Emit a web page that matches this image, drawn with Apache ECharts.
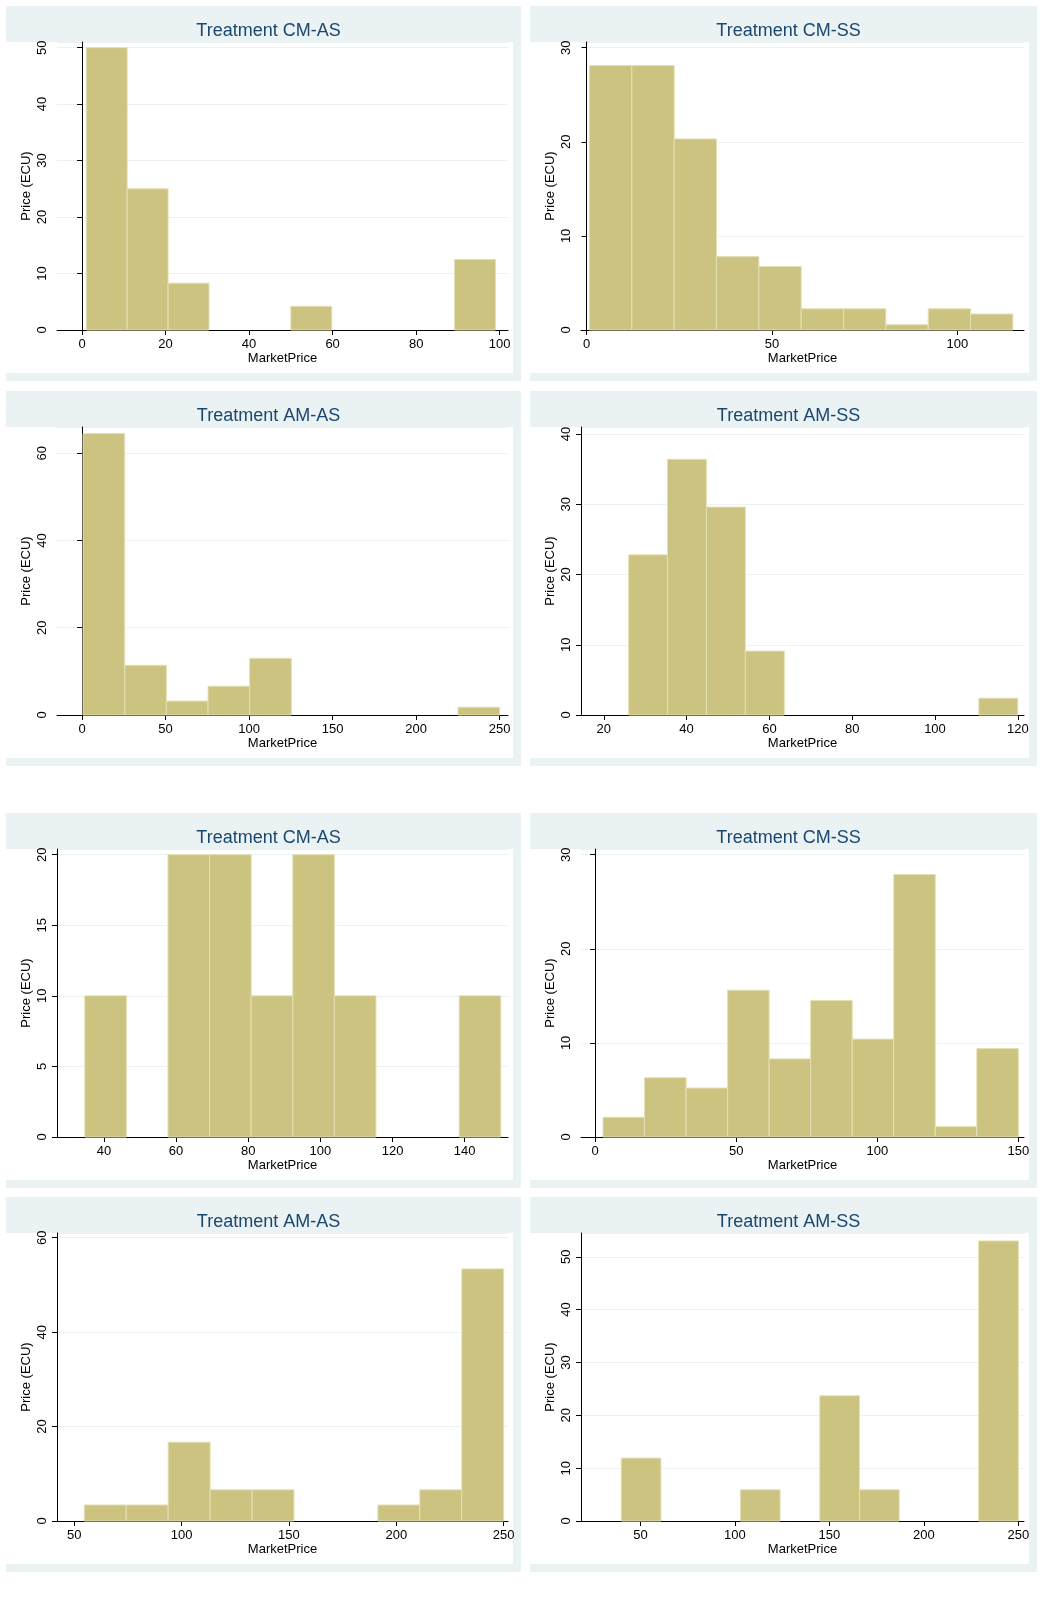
<!DOCTYPE html>
<html>
<head>
<meta charset="utf-8">
<title>MarketPrice histograms</title>
<script src="https://cdn.jsdelivr.net/npm/echarts/dist/echarts.min.js"></script>
<style>html,body{margin:0;padding:0;background:#fff;overflow:hidden}#main{width:1061px;height:1604px}</style>
</head>
<body>
<div id="main"></div>
<script>
// titles of the eight panels
var titles = ['Treatment CM-AS', 'Treatment CM-SS', 'Treatment AM-AS', 'Treatment AM-SS',
              'Treatment CM-AS', 'Treatment CM-SS', 'Treatment AM-AS', 'Treatment AM-SS'];
// histogram bins: first edge, bin width, heights
var binStart = [1, 0.8, 0.6, 26, 34.7, 2.8, 54.7, 39.8];
var binWidth = [9.8, 11.42, 24.94, 9.4, 11.53, 14.72, 19.53, 21.02];
var heights = [
  [50, 25, 8.3, 0, 0, 4.2, 0, 0, 0, 12.5],
  [28.1, 28.1, 20.3, 7.8, 6.75, 2.25, 2.25, 0.56, 2.25, 1.7],
  [64.5, 11.4, 3.2, 6.6, 13, 0, 0, 0, 0, 1.8],
  [22.8, 36.4, 29.6, 9.1, 0, 0, 0, 0, 0, 2.4],
  [10, 0, 20, 20, 10, 20, 10, 0, 0, 10],
  [2.1, 6.3, 5.2, 15.6, 8.3, 14.5, 10.4, 27.9, 1.1, 9.4],
  [3.4, 3.4, 16.7, 6.6, 6.6, 0, 0, 3.4, 6.6, 53.4],
  [11.9, 0, 0, 5.9, 0, 23.7, 5.9, 0, 0, 53]
];
// axis ranges and ticks
var xMin = [-6, -1.5, -15, 14.5, 27, -5, 42, 18.5];
var xMax = [102, 118, 255, 121.5, 152, 152, 252, 253];
var xInt = [20, 50, 50, 20, 20, 50, 50, 50];
var yMax = [51, 30.6, 66, 41, 20.4, 30.6, 61, 54.5];
var yInt = [10, 10, 20, 10, 5, 10, 20, 10];

var panelX = [6, 530], panelY = [6, 391, 813, 1197];
var panelW = [515, 507], panelH = 375;

var chart = echarts.init(document.getElementById('main'));
var grids = [], xAxes = [], yAxes = [], series = [], title = [], graphic = [];
for (var i = 0; i < 8; i++) {
  var c = i % 2, r = Math.floor(i / 2);
  var px = panelX[c], py = panelY[r], pw = panelW[c];
  graphic.push({type: 'rect', z: -10, shape: {x: px, y: py, width: pw, height: panelH}, style: {fill: '#eaf2f3'}});
  graphic.push({type: 'rect', z: -9, shape: {x: px, y: py + 36, width: pw - 8, height: panelH - 44}, style: {fill: '#ffffff'}});
  title.push({text: titles[i], left: px + pw / 2, top: py + 11, textAlign: 'center',
    textStyle: {color: '#1a476f', fontSize: 18, fontWeight: 'normal', fontFamily: 'Liberation Sans'}});
  grids.push({left: px + 51, top: py + 36, width: pw - 64, height: 288});
  var ticks = [];
  for (var v = Math.ceil(xMin[i] / xInt[i]) * xInt[i]; v <= xMax[i]; v += xInt[i]) ticks.push(v);
  xAxes.push({type: 'value', gridIndex: i, min: xMin[i], max: xMax[i],
    name: 'MarketPrice', nameLocation: 'middle', nameGap: 22,
    nameTextStyle: {color: '#000', fontSize: 13, fontFamily: 'Liberation Sans'},
    axisLine: {show: true, onZero: false, lineStyle: {color: '#000'}},
    axisTick: {show: true, length: 5, lineStyle: {color: '#000'}, customValues: ticks},
    axisLabel: {color: '#000', fontSize: 13, margin: 8, fontFamily: 'Liberation Sans', customValues: ticks},
    splitLine: {show: false}});
  yAxes.push({type: 'value', gridIndex: i, min: 0, max: yMax[i], interval: yInt[i],
    name: 'Price (ECU)', nameLocation: 'middle', nameGap: 24, nameRotate: 90,
    nameTextStyle: {color: '#000', fontSize: 13, fontFamily: 'Liberation Sans'},
    axisLine: {show: true, lineStyle: {color: '#000'}},
    axisTick: {show: true, length: 5, lineStyle: {color: '#000'}},
    axisLabel: {color: '#000', fontSize: 13, rotate: 90, margin: 8, fontFamily: 'Liberation Sans', showMaxLabel: false},
    splitLine: {show: true, lineStyle: {color: '#eaf2f3'}}});
  var data = heights[i].map(function (h, k) {
    return [binStart[i] + k * binWidth[i], binStart[i] + (k + 1) * binWidth[i], h];
  });
  series.push({type: 'custom', xAxisIndex: i, yAxisIndex: i, data: data,
    renderItem: function (params, api) {
      var h = api.value(2);
      if (!h) return null;
      var p0 = api.coord([api.value(0), 0]);
      var p1 = api.coord([api.value(1), h]);
      return {type: 'rect', shape: {x: p0[0], y: p1[1], width: p1[0] - p0[0], height: p0[1] - p1[1]},
        style: {fill: '#cbc37f', stroke: '#e4e0b6', lineWidth: 1}};
    }});
}
chart.setOption({animation: false, title: title, grid: grids, xAxis: xAxes, yAxis: yAxes, series: series, graphic: graphic});
</script>
</body>
</html>
